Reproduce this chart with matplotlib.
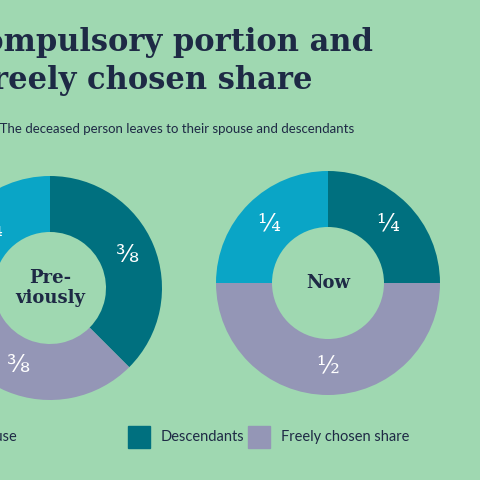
import numpy as np
import matplotlib.pyplot as plt

# chart data
categories = ['Spouse', 'Descendants', 'Freely chosen share']
before_vals = [2, 3, 3]          # eighths
before_labels = ['\u00bc', '\u215c', '\u215c']
now_vals = [2, 2, 4]
now_labels = ['\u00bc', '\u00bc', '\u00bd']
colors = ['#0aa5c6', '#00707f', '#9496b6']
bg = '#9fd8b1'
navy = '#1e2a45'

fig = plt.figure(figsize=(4.8, 4.8), dpi=100, facecolor=bg)
ax = fig.add_axes([0, 0, 1, 1])

def donut(cx, cy, vals, labels, centre):
    # order: descendants, freely, spouse, clockwise from top
    order = [1, 2, 0]
    v = [vals[i] for i in order]
    c = [colors[i] for i in order]
    ax.pie(v, colors=c, startangle=90, counterclock=False,
           center=(cx, cy), radius=112, frame=True,
           wedgeprops=dict(width=56, edgecolor='none'))
    tot = sum(v)
    ang = 90
    for i, val in zip(order, v):
        mid = ang - 360 * val / tot / 2
        ang -= 360 * val / tot
        r = 84
        ax.text(cx + r * np.cos(np.radians(mid)), cy + r * np.sin(np.radians(mid)),
                labels[i], color='white', fontsize=17, ha='center', va='center',
                family='DejaVu Serif')
    ax.text(cx, cy, centre, color=navy, fontsize=13, ha='center', va='center',
            family='DejaVu Serif', weight='bold', linespacing=1.1)

donut(50, 192, before_vals, before_labels, 'Pre-\nviously')
donut(328, 197, now_vals, now_labels, 'Now')
ax.set_xlim(0, 480)
ax.set_ylim(0, 480)
ax.set_aspect('equal')
ax.axis('off')

fig.text(-0.085, 0.893, 'Compulsory portion and', color=navy, fontsize=22,
         family='DejaVu Serif', weight='bold')
fig.text(-0.06, 0.815, 'Freely chosen share', color=navy, fontsize=22,
         family='DejaVu Serif', weight='bold')
fig.text(-0.03, 0.722, 'y: The deceased person leaves to their spouse and descendants',
         color=navy, fontsize=9.5, family='Lato')

# legend
lx = [-62, 128, 248]
for x, col, lab in zip(lx, colors, categories):
    ax.add_patch(plt.Rectangle((x, 32), 22, 22, color=col))
    ax.text(x + 33, 43, lab, color=navy, fontsize=10.5, va='center', family='Lato')

fig.savefig('out.png', dpi=100, facecolor=bg)
